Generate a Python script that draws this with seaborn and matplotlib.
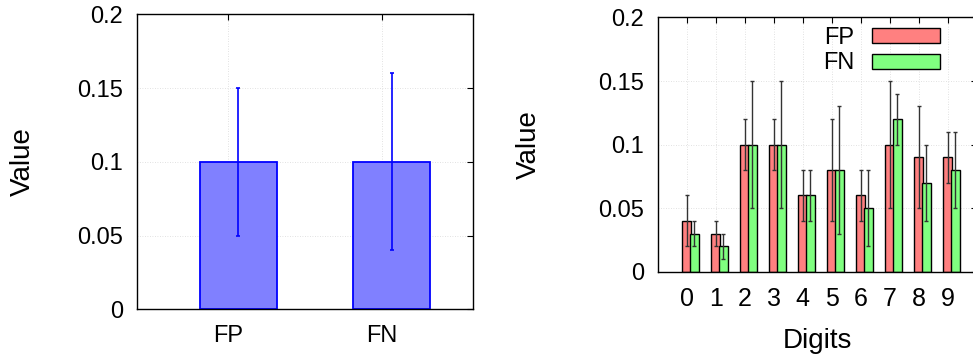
import numpy as np
import pandas as pd
import matplotlib
matplotlib.use("Agg")
import matplotlib.pyplot as plt
import seaborn as sns

# Overall error rates
overall_labels = ["FP", "FN"]
overall_values = [0.10, 0.10]
overall_err = [0.05, 0.06]

# Per-digit error rates
digits = [0, 1, 2, 3, 4, 5, 6, 7, 8, 9]
fp_values = [0.04, 0.03, 0.10, 0.10, 0.06, 0.08, 0.06, 0.10, 0.09, 0.09]
fp_err = [0.02, 0.01, 0.02, 0.02, 0.02, 0.04, 0.02, 0.05, 0.04, 0.02]
fn_values = [0.03, 0.02, 0.10, 0.10, 0.06, 0.08, 0.05, 0.12, 0.07, 0.08]
fn_err = [0.01, 0.01, 0.05, 0.05, 0.02, 0.05, 0.03, 0.02, 0.03, 0.03]

y_ticks = [0, 0.05, 0.1, 0.15, 0.2]
y_ticklabels = ["0", "0.05", "0.1", "0.15", "0.2"]

sns.set_style("white")
plt.rcParams["font.family"] = ["Liberation Sans", "DejaVu Sans"]
plt.rcParams["font.size"] = 17
plt.rcParams["text.color"] = "black"
plt.rcParams["axes.labelcolor"] = "black"
plt.rcParams["xtick.color"] = "black"
plt.rcParams["ytick.color"] = "black"

TICK_FS = 17
LABEL_FS = 20

fig = plt.figure(figsize=(9.73, 3.6), dpi=100)
ax1 = fig.add_axes([0.1405, 0.1408, 0.3456, 0.8194])
ax2 = fig.add_axes([0.6759, 0.2453, 0.3279, 0.7061])


def style_axes(ax):
    for s in ax.spines.values():
        s.set_visible(True)
        s.set_color("black")
        s.set_linewidth(1.0)
    ax.tick_params(direction="in", length=4, width=0.8, top=True, right=True,
                   labelsize=TICK_FS, color="black", labelcolor="black")
    ax.tick_params(axis="y", pad=10)
    ax.tick_params(axis="x", pad=11)
    ax.grid(True, color="#d8d8d8", linestyle=(0, (1, 2)), linewidth=0.6)
    ax.set_axisbelow(True)
    ax.set_ylim(0, 0.2)
    ax.set_yticks(y_ticks)
    ax.set_yticklabels(y_ticklabels)


# Left panel: overall FP / FN
df1 = pd.DataFrame({"kind": overall_labels, "value": overall_values})
sns.barplot(data=df1, x="kind", y="value", ax=ax1, width=0.5,
            color="#8080ff", saturation=1, edgecolor="#0000ff",
            linewidth=1.3, errorbar=None)
ax1.errorbar(np.arange(len(overall_labels)), overall_values, yerr=overall_err,
             fmt="none", ecolor="#0000ff", elinewidth=1.2, capsize=1.5,
             capthick=1.2)
style_axes(ax1)
ax1.set_xlim(-0.663, 1.531)
ax1.set_xticks(np.arange(len(overall_labels)) - 0.065)
ax1.set_xticklabels(overall_labels)
ax1.set_xlabel("")
ax1.set_ylabel("Value", fontsize=LABEL_FS)
ax1.yaxis.set_label_coords(-0.300, 0.5)

# Right panel: per-digit FP / FN, FN bars slightly overlapping FP bars
shift = 0.26
df_fp = pd.DataFrame({"digit": np.array(digits, dtype=float), "value": fp_values})
df_fn = pd.DataFrame({"digit": np.array(digits, dtype=float) + shift, "value": fn_values})
sns.barplot(data=df_fp, x="digit", y="value", ax=ax2, native_scale=True,
            width=0.3, color="#ff8080", saturation=1, edgecolor="black",
            linewidth=1.0, errorbar=None, label="FP")
sns.barplot(data=df_fn, x="digit", y="value", ax=ax2, native_scale=True,
            width=0.3, color="#80ff80", saturation=1, edgecolor="black",
            linewidth=1.0, errorbar=None, label="FN")
ax2.errorbar(df_fp["digit"], fp_values, yerr=fp_err, fmt="none",
             ecolor="#333333", elinewidth=1.0, capsize=1.5, capthick=1.0,
             zorder=5)
ax2.errorbar(df_fn["digit"], fn_values, yerr=fn_err, fmt="none",
             ecolor="#333333", elinewidth=1.0, capsize=1.5, capthick=1.0,
             zorder=5)
style_axes(ax2)
ax2.set_xlim(-1, 10)
ax2.set_xticks(digits)
ax2.set_xticklabels([str(d) for d in digits], fontsize=18)
ax2.set_xlabel("Digits", fontsize=LABEL_FS)
ax2.xaxis.set_label_coords(0.5, -0.2215)
ax2.set_ylabel("Value", fontsize=LABEL_FS)
ax2.yaxis.set_label_coords(-0.364, 0.5)

leg = ax2.legend(loc="upper right", bbox_to_anchor=(0.9155, 1.0), frameon=False,
                 markerfirst=False, handlelength=2.9, handleheight=0.6,
                 handletextpad=0.75, labelspacing=0.15, fontsize=TICK_FS,
                 borderaxespad=0)

fig.savefig("out.png", dpi=100)
